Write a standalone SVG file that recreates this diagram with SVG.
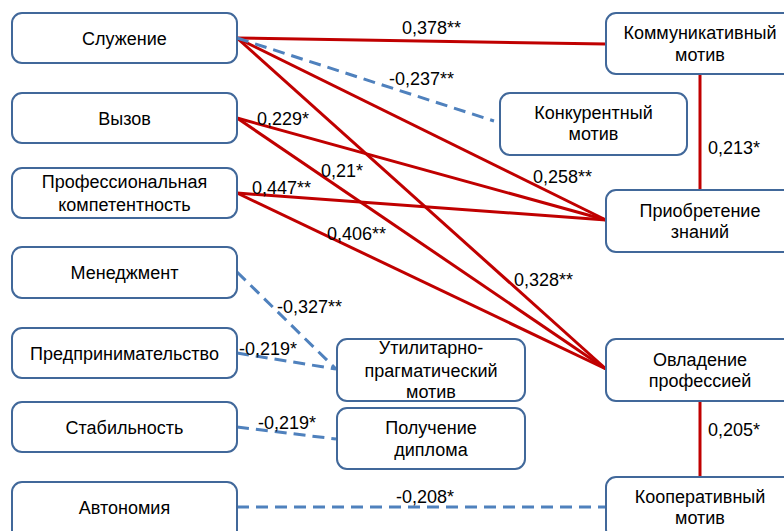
<svg xmlns="http://www.w3.org/2000/svg" width="784" height="531" viewBox="0 0 784 531">
<style>
.box{fill:#fff;stroke:#41689A;stroke-width:2}
.t{font-family:"Liberation Sans",Arial,sans-serif;font-size:18px;fill:#000;text-anchor:middle}
.l{font-family:"Liberation Sans",Arial,sans-serif;font-size:18px;fill:#000}
.r{stroke:#C00000;stroke-width:3;fill:none}
.b{stroke:#4F81BD;stroke-width:3;fill:none;stroke-dasharray:12 7}
</style>
<rect width="784" height="531" fill="#fff"/>
<g id="connectors">
<line class="r" x1="237" y1="38" x2="606" y2="44"/>
<line class="r" x1="237" y1="38" x2="606" y2="220"/>
<line class="r" x1="237" y1="38" x2="606" y2="369"/>
<line class="r" x1="237" y1="118" x2="606" y2="220"/>
<line class="r" x1="237" y1="118" x2="606" y2="369"/>
<line class="r" x1="237" y1="193" x2="606" y2="220"/>
<line class="r" x1="237" y1="193" x2="606" y2="369"/>
<line class="r" x1="700" y1="74" x2="700" y2="190"/>
<line class="r" x1="700" y1="401" x2="700" y2="477"/>
<line class="b" x1="237" y1="38" x2="494" y2="121"/>
<line class="b" x1="237" y1="272" x2="336" y2="369"/>
<line class="b" x1="237" y1="353" x2="336" y2="369"/>
<line class="b" x1="237" y1="427" x2="336" y2="439"/>
<line class="b" x1="237" y1="507" x2="606" y2="507"/>
</g>
<g id="edge-labels">
<text class="l" x="402" y="34">0,378**</text>
<text class="l" x="389" y="85">-0,237**</text>
<text class="l" x="257" y="125">0,229*</text>
<text class="l" x="321" y="177">0,21*</text>
<text class="l" x="252" y="194">0,447**</text>
<text class="l" x="327" y="240">0,406**</text>
<text class="l" x="533" y="183">0,258**</text>
<text class="l" x="708" y="154">0,213*</text>
<text class="l" x="514" y="286">0,328**</text>
<text class="l" x="708" y="436">0,205*</text>
<text class="l" x="277" y="313">-0,327**</text>
<text class="l" x="239" y="355">-0,219*</text>
<text class="l" x="258" y="429">-0,219*</text>
<text class="l" x="396" y="503">-0,208*</text>
</g>
<g id="sluzhenie"><rect class="box" x="12" y="13" width="225" height="50" rx="10"/><text class="t" x="124.5" y="45">Служение</text></g>
<g id="vyzov"><rect class="box" x="12" y="93" width="225" height="50" rx="10"/><text class="t" x="124.5" y="125">Вызов</text></g>
<g id="prof"><rect class="box" x="12" y="168" width="225" height="50" rx="10"/><text class="t" x="124.5" y="188">Профессиональная</text><text class="t" x="124.5" y="211">компетентность</text></g>
<g id="management"><rect class="box" x="12" y="247" width="225" height="51" rx="10"/><text class="t" x="124.5" y="279">Менеджмент</text></g>
<g id="predprin"><rect class="box" x="12" y="328" width="225" height="50" rx="10"/><text class="t" x="124.5" y="360">Предпринимательство</text></g>
<g id="stabil"><rect class="box" x="12" y="402" width="225" height="50" rx="10"/><text class="t" x="124.5" y="434">Стабильность</text></g>
<g id="avtonom"><rect class="box" x="12" y="482" width="225" height="60" rx="10"/><text class="t" x="124.5" y="514">Автономия</text></g>
<g id="kommunik"><rect class="box" x="606" y="13" width="188" height="61" rx="10"/><text class="t" x="700" y="39">Коммуникативный</text><text class="t" x="700" y="61">мотив</text></g>
<g id="konkur"><rect class="box" x="500" y="93" width="187" height="62" rx="10"/><text class="t" x="593.5" y="119">Конкурентный</text><text class="t" x="593.5" y="140">мотив</text></g>
<g id="priobret"><rect class="box" x="606" y="190" width="188" height="62" rx="10"/><text class="t" x="700" y="217">Приобретение</text><text class="t" x="700" y="238">знаний</text></g>
<g id="ovladenie"><rect class="box" x="606" y="339" width="188" height="62" rx="10"/><text class="t" x="700" y="366">Овладение</text><text class="t" x="700" y="387">профессией</text></g>
<g id="kooper"><rect class="box" x="606" y="477" width="188" height="62" rx="10"/><text class="t" x="700" y="503">Кооперативный</text><text class="t" x="700" y="524">мотив</text></g>
<g id="utilit"><rect class="box" x="337" y="339" width="188" height="62" rx="10"/><text class="t" x="431" y="354">Утилитарно-</text><text class="t" x="431" y="377">прагматический</text><text class="t" x="431" y="398">мотив</text></g>
<g id="poluch"><rect class="box" x="337" y="408" width="188" height="61" rx="10"/><text class="t" x="431" y="434">Получение</text><text class="t" x="431" y="456">диплома</text></g>
</svg>
